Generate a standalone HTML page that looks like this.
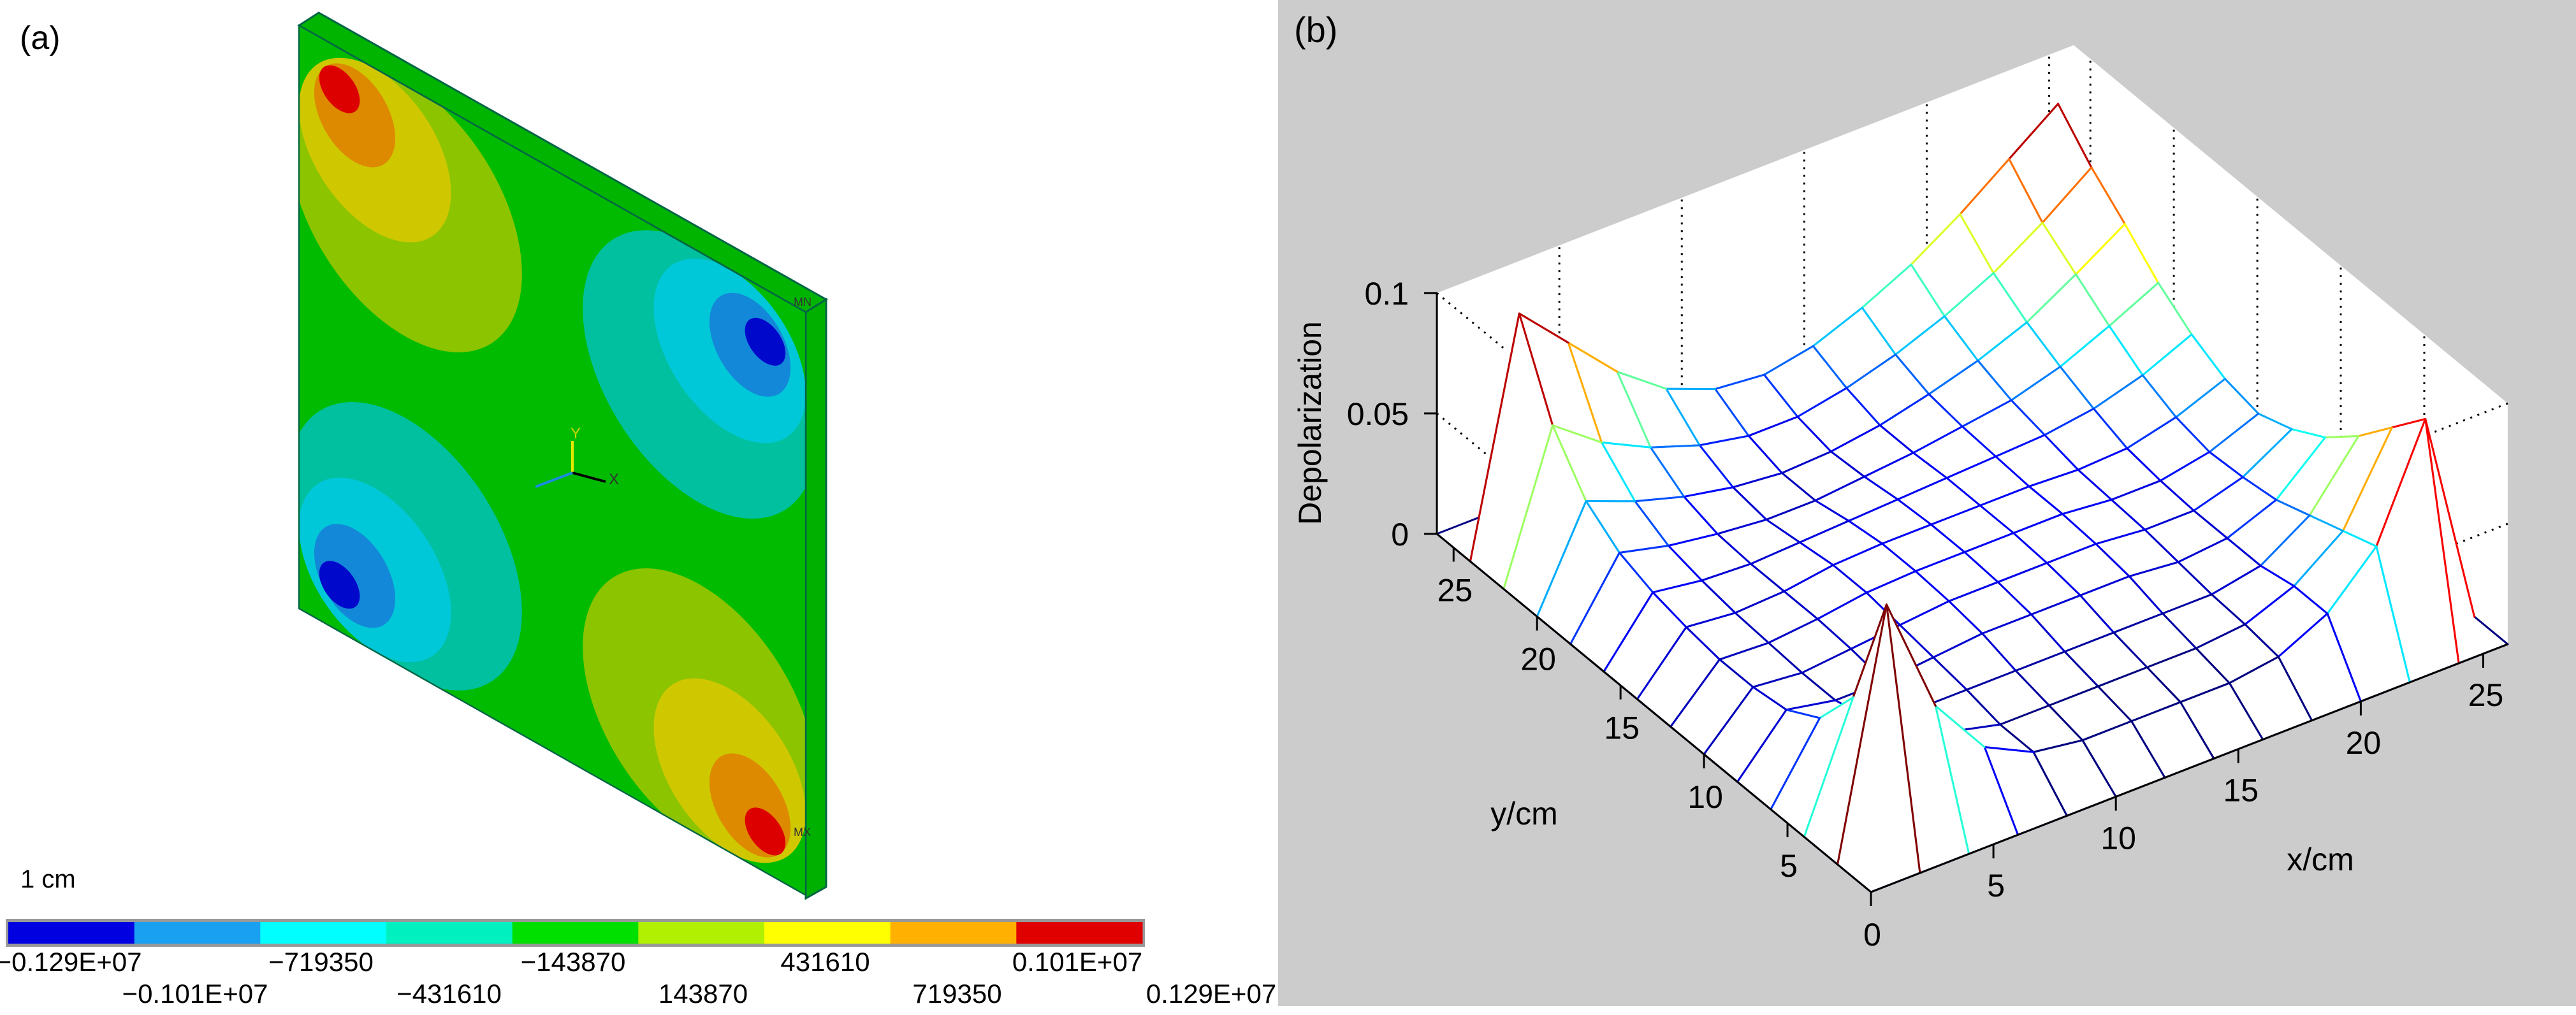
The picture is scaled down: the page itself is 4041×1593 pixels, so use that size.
<!DOCTYPE html>
<html><head><meta charset="utf-8"><style>
html,body{margin:0;padding:0;background:#fff;width:4041px;height:1593px;overflow:hidden}
svg{display:block;font-family:"Liberation Sans",sans-serif}
</style></head><body>
<svg id="fig" width="4041" height="1593" viewBox="0 0 4041 1593" xmlns="http://www.w3.org/2000/svg">
<defs><clipPath id="faceClip"><rect x="0" y="0" width="100" height="100"/></clipPath></defs>
<g>
<text x="31" y="77" font-size="52">(a)</text>
<polygon points="469,40 500,20 1296,470 1264,490" fill="#00b400" stroke="#064" stroke-width="3"/>
<polygon points="1264,490 1296,470 1296,1392 1264,1410" fill="#00b000" stroke="#064" stroke-width="3"/>
<g transform="matrix(7.95,4.5,0,9.15,469,40)">
<g clip-path="url(#faceClip)">
<rect x="0" y="0" width="100" height="100" fill="#00bb00"/>
<g>
<ellipse cx="21" cy="21" rx="23" ry="22" fill="#8cc400"/><ellipse cx="15" cy="14" rx="15" ry="14" fill="#cfc800"/><ellipse cx="11" cy="10" rx="8" ry="8" fill="#dd8a00"/><ellipse cx="8" cy="7" rx="4" ry="3.6" fill="#dd0000"/></g>
<g>
<ellipse cx="79" cy="79" rx="23" ry="22" fill="#8cc400"/><ellipse cx="85" cy="86" rx="15" ry="14" fill="#cfc800"/><ellipse cx="89" cy="90" rx="8" ry="8" fill="#dd8a00"/><ellipse cx="92" cy="93" rx="4" ry="3.6" fill="#dd0000"/></g>
<g>
<ellipse cx="79" cy="21" rx="23" ry="22" fill="#00c0a0"/><ellipse cx="85" cy="14" rx="15" ry="14" fill="#00c8d8"/><ellipse cx="89" cy="11" rx="8" ry="8" fill="#1488d8"/><ellipse cx="92" cy="9" rx="4" ry="3.6" fill="#0008cc"/></g>
<g>
<ellipse cx="21" cy="79" rx="23" ry="22" fill="#00c0a0"/><ellipse cx="15" cy="86" rx="15" ry="14" fill="#00c8d8"/><ellipse cx="11" cy="89" rx="8" ry="8" fill="#1488d8"/><ellipse cx="8" cy="92" rx="4" ry="3.6" fill="#0008cc"/></g>
</g>
<rect x="0" y="0" width="100" height="100" fill="none" stroke="#064" stroke-width="0.3"/>
</g>
<g>
<line x1="898" y1="742" x2="898" y2="692" stroke="#e8e800" stroke-width="4"/>
<line x1="898" y1="742" x2="950" y2="756" stroke="#000" stroke-width="4"/>
<line x1="898" y1="742" x2="840" y2="764" stroke="#1a8be0" stroke-width="4"/>
<text x="895" y="688" font-size="24" fill="#c8d800">Y</text>
<text x="955" y="760" font-size="24" fill="#333">X</text>
</g>
<text x="1245" y="480" font-size="18" fill="#333">MN</text>
<text x="1245" y="1312" font-size="18" fill="#333">MX</text>
<text x="32" y="1393" font-size="40">1 cm</text>
<rect x="9" y="1442" width="1787" height="44" fill="#999"/>
<g id="cbar"></g>
<g id="cbarLabels"></g>
</g>

<g>
<rect x="2005" y="0" width="2036" height="1579" fill="#cccccc"/>
<text x="2030" y="66" font-size="56">(b)</text>
<g id="box"></g>
<g id="mesh"></g>
<g id="axes3d"></g>
<text transform="translate(2072,664) rotate(-90)" text-anchor="middle" font-size="50">Depolarization</text>
<text x="2391" y="1294" text-anchor="middle" font-size="50">y/cm</text>
<text x="3640" y="1366" text-anchor="middle" font-size="50">x/cm</text>
</g>
</svg>
<script>
// ---- colorbar data ----
const cbarColors = ["#0000e0","#1aa0f0","#00ffff","#00f0c0","#00e000","#b0f000","#ffff00","#ffb000","#e00000"];
const cbarTopLabels = ["-0.129E+07","-719350","-143870","431610","0.101E+07"];
const cbarBottomLabels = ["-0.101E+07","-431610","143870","719350","0.129E+07"];
// ---- surface data: depolarization z[yIndex][xIndex] ----
const xCm = [0,2,4,6,8,10,12,14,16,18,20,22,24,26];
const yCm = [0,2,4,6,8,10,12,14,16,18,20,22,24,26];
const zRows = [
[0,0,0,0,0,0,0,0,0,0,0,0,0,0],
[0,0.100,0.050,0.025,0.015,0.012,0.012,0.012,0.012,0.015,0.025,0.045,0.090,0],
[0,0.050,0.030,0.020,0.015,0.015,0.015,0.015,0.015,0.017,0.025,0.040,0.075,0],
[0,0.030,0.022,0.018,0.018,0.018,0.018,0.018,0.018,0.018,0.022,0.035,0.060,0],
[0,0.022,0.018,0.018,0.020,0.022,0.022,0.022,0.022,0.020,0.022,0.030,0.048,0],
[0,0.020,0.018,0.020,0.022,0.024,0.024,0.024,0.024,0.022,0.022,0.028,0.040,0],
[0,0.020,0.019,0.021,0.024,0.025,0.025,0.025,0.025,0.023,0.023,0.027,0.035,0],
[0,0.022,0.020,0.021,0.024,0.025,0.025,0.025,0.025,0.024,0.025,0.030,0.038,0],
[0,0.025,0.022,0.021,0.022,0.023,0.024,0.025,0.026,0.027,0.030,0.036,0.045,0],
[0,0.030,0.025,0.022,0.020,0.020,0.022,0.024,0.027,0.030,0.036,0.045,0.055,0],
[0,0.040,0.032,0.026,0.022,0.020,0.021,0.024,0.029,0.035,0.043,0.055,0.068,0],
[0,0.060,0.045,0.035,0.028,0.024,0.024,0.028,0.034,0.042,0.052,0.065,0.080,0],
[0,0.095,0.075,0.055,0.040,0.032,0.030,0.034,0.042,0.052,0.065,0.080,0.095,0],
[0,0,0,0,0,0,0,0,0,0,0,0,0,0]];
const xTicks = [0,5,10,15,20,25];
const yTicks = [0,5,10,15,20,25];
const zTicks = [0,0.05,0.1];
const zTickLabels = ["0","0.05","0.1"];

const NS="http://www.w3.org/2000/svg";
function mk(tag, attrs, parent){const e=document.createElementNS(NS,tag);for(const k in attrs)e.setAttribute(k,attrs[k]);parent.appendChild(e);return e;}

// colorbar
const cb=document.getElementById('cbar');
const segW=(1792-13)/cbarColors.length;
cbarColors.forEach((c,i)=>{
  const r=mk('rect',{x:13+i*segW,y:1447,width:segW+0.5,height:34,fill:c},cb);
  
  
});
const cl=document.getElementById('cbarLabels');
cbarTopLabels.forEach((t,i)=>{
  const e=mk('text',{x:108+i*395.5,y:1524,'text-anchor':'middle','font-size':42},cl);e.textContent=t.replace('-','\u2212');
  
  
});
cbarBottomLabels.forEach((t,i)=>{
  const e=mk('text',{x:306+i*398.5,y:1574,'text-anchor':'middle','font-size':42},cl);e.textContent=t.replace('-','\u2212');
  
  
});

// 3D projection
const O=[2935,1400], EX=[38.42,-14.96], EY=[-26.19,-21.62], EZ=-3780;
function P(x,y,z){return [O[0]+x*EX[0]+y*EY[0], O[1]+x*EX[1]+y*EY[1]+z*EZ];}
function pts(a){return a.map(p=>p[0].toFixed(1)+','+p[1].toFixed(1)).join(' ');}
function jet(z){let t=(z-0.015)/0.085;t=Math.max(0,Math.min(1,t));
  const f=v=>Math.round(255*Math.max(0,Math.min(1,v)));
  return `rgb(${f(1.5-Math.abs(4*t-3))},${f(1.5-Math.abs(4*t-2))},${f(1.5-Math.abs(4*t-1))})`;}

const box=document.getElementById('box');
const bp=mk('polygon',{points:pts([P(0,26,0),P(0,26,0.1),P(26,26,0.1),P(26,0,0.1),P(26,0,0),P(0,0,0)]),fill:'#fff'},box);


xTicks.forEach(v=>{ if(v===0)return;
  const a=P(v,26,0),b=P(v,26,0.1);
  const l=mk('line',{x1:a[0],y1:a[1],x2:b[0],y2:b[1],stroke:'#000','stroke-width':3,'stroke-dasharray':'3 9'},box);
  
  
});
yTicks.forEach(v=>{ if(v===0)return;
  const a=P(26,v,0),b=P(26,v,0.1);
  const l=mk('line',{x1:a[0],y1:a[1],x2:b[0],y2:b[1],stroke:'#000','stroke-width':3,'stroke-dasharray':'3 9'},box);
  
  
});
zTicks.forEach(v=>{ if(v===0)return;
  const a=P(0,26,v),b=P(0,22,v),c=P(26,0,v),d=P(22,0,v);
  const l=mk('line',{x1:a[0],y1:a[1],x2:b[0],y2:b[1],stroke:'#000','stroke-width':3,'stroke-dasharray':'3 9'},box);
  
  
  const l2=mk('line',{x1:c[0],y1:c[1],x2:d[0],y2:d[1],stroke:'#000','stroke-width':3,'stroke-dasharray':'3 9'},box);
  
  
});

// mesh cells, back to front
const mesh=document.getElementById('mesh');
const cells=[];
for(let j=0;j<yCm.length-1;j++)for(let i=0;i<xCm.length-1;i++)cells.push([i,j]);
cells.sort((a,b)=>(b[0]+b[1])-(a[0]+a[1]));
cells.forEach(([i,j])=>{
  const c=[[i,j],[i+1,j],[i+1,j+1],[i,j+1]];
  const p=c.map(([a,b])=>P(xCm[a],yCm[b],zRows[b][a]));
  const g=mk('g',{},mesh);
  
  
  mk('polygon',{points:pts(p),fill:'#fff'},g);
  for(let k=0;k<4;k++){
    const A=c[k],B=c[(k+1)%4];
    const z=Math.max(zRows[A[1]][A[0]],zRows[B[1]][B[0]]);
    mk('line',{x1:p[k][0],y1:p[k][1],x2:p[(k+1)%4][0],y2:p[(k+1)%4][1],stroke:jet(z),'stroke-width':3,'stroke-linecap':'round'},g);
  }
});

// axes lines, ticks, labels
const ax=document.getElementById('axes3d');
function line(a,b,name){const l=mk('line',{x1:a[0],y1:a[1],x2:b[0],y2:b[1],stroke:'#000','stroke-width':3},ax);
  
  }
line(P(0,0,0),P(26,0,0),'x-axis-line');
line(P(0,0,0),P(0,26,0),'y-axis-line');
line(P(0,26,0),P(0,26,0.1),'z-axis-line');
xTicks.forEach(v=>{const a=P(v,0,0);line(a,[a[0],a[1]+22],'x-tick');
  if(v===0)return;
  const t=mk('text',{x:a[0]+4,y:a[1]+82,'text-anchor':'middle','font-size':50},ax);t.textContent=v;
  
  });
yTicks.forEach(v=>{const a=P(0,v,0);line(a,[a[0],a[1]+22],'y-tick');
  const t=mk('text',{x:a[0]+2,y:a[1]+84,'text-anchor':'middle','font-size':50},ax);t.textContent=v;
  
  });
zTicks.forEach((v,k)=>{const a=P(0,26,v);line(a,[a[0]-20,a[1]],'z-tick');
  const t=mk('text',{x:a[0]-44,y:a[1]+18,'text-anchor':'end','font-size':50},ax);t.textContent=zTickLabels[k];
  
  });
</script>
</body></html>
